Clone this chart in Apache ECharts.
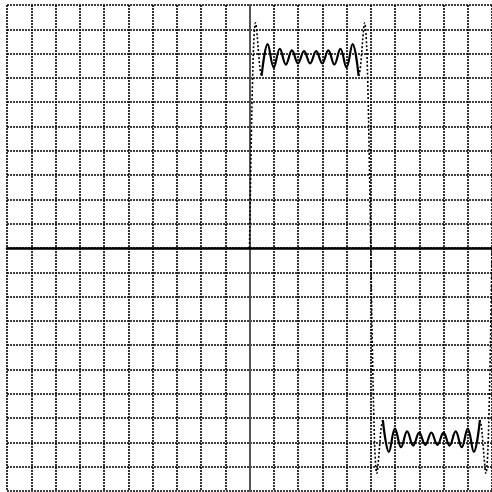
<!DOCTYPE html>
<html>
<head>
<meta charset="utf-8">
<script src="https://cdn.jsdelivr.net/npm/echarts@6/dist/echarts.min.js"></script>
<style>
  html, body { margin: 0; padding: 0; background: #fff; }
  #chart { width: 492px; height: 492px; }
</style>
</head>
<body>
<div id="chart"></div>
<script>
// Partial Fourier sum of a square wave: +level on (0,5), -level on (5,10).
// Steep jump sections (drawn dotted)
const riseX = [0, 0.0625, 0.125, 0.1875, 0.25, 0.3125, 0.375, 0.4375, 0.5];
const riseY = [0, 3.85, 6.85, 8.69, 9.27, 8.78, 8.02, 7.35, 7.08];
const dropX = [4.5, 4.5625, 4.625, 4.6875, 4.75, 4.8125, 4.875, 4.9375, 5,
               5.0625, 5.125, 5.1875, 5.25, 5.3125, 5.375, 5.4375, 5.5];
const dropY = [7.08, 7.35, 8.02, 8.78, 9.27, 8.69, 6.85, 3.85, 0,
               -3.85, -6.85, -8.69, -9.27, -8.78, -8.02, -7.35, -7.08];
const endX = [9.5, 9.5625, 9.625, 9.6875, 9.75, 9.8125, 9.875, 9.9375, 10];
const endY = [-7.08, -7.35, -8.02, -8.78, -9.27, -8.69, -6.85, -3.85, 0];

// Ripple sections (solid): extrema every 0.25
const upperX = [0.5, 0.75, 1.0, 1.25, 1.5, 1.75, 2.0, 2.25, 2.5, 2.75, 3.0, 3.25, 3.5, 3.75, 4.0, 4.25, 4.5];
const upperY = [7.08, 8.39, 7.43, 8.20, 7.55, 8.13, 7.60, 8.10, 7.60, 8.10, 7.60, 8.13, 7.55, 8.20, 7.43, 8.39, 7.08];
const lowerX = [5.5, 5.75, 6.0, 6.25, 6.5, 6.75, 7.0, 7.25, 7.5, 7.75, 8.0, 8.25, 8.5, 8.75, 9.0, 9.25, 9.5];
const lowerY = [-7.08, -8.39, -7.43, -8.20, -7.55, -8.13, -7.60, -8.10, -7.60, -8.10, -7.60, -8.13, -7.55, -8.20, -7.43, -8.39, -7.08];

function pairs(xs, ys) { return xs.map((x, i) => [x, ys[i]]); }
const gap = ['-', '-'];

const edgeData = [].concat(pairs(riseX, riseY), [gap], pairs(dropX, dropY), [gap], pairs(endX, endY));
const rippleData = [].concat(pairs(upperX, upperY), [gap], pairs(lowerX, lowerY));

const gridLine = { show: true, lineStyle: { color: '#000', width: 1.6, type: [2, 1] } };

const chart = echarts.init(document.getElementById('chart'), null, { renderer: 'canvas' });
chart.setOption({
  animation: false,
  backgroundColor: '#ffffff',
  grid: { left: 7, top: 5, width: 487, height: 486, containLabel: false },
  xAxis: {
    type: 'value', min: -10, max: 10, interval: 1,
    axisLine: { show: true, onZero: true, lineStyle: { color: '#000', width: 2.5 } },
    axisTick: { show: false }, axisLabel: { show: false },
    splitLine: gridLine
  },
  yAxis: {
    type: 'value', min: -10, max: 10, interval: 1,
    axisLine: { show: true, onZero: true, lineStyle: { color: '#555', width: 2 } },
    axisTick: { show: false }, axisLabel: { show: false },
    splitLine: gridLine
  },
  series: [
    {
      type: 'line', data: edgeData, smooth: 0.4, showSymbol: false, connectNulls: false,
      lineStyle: { color: '#000', width: 1.6, type: [2, 2] }, z: 3
    },
    {
      type: 'line', data: rippleData, smooth: 0.4, showSymbol: false, connectNulls: false,
      lineStyle: { color: '#000', width: 2.2 }, z: 4
    }
  ]
});
</script>
</body>
</html>
